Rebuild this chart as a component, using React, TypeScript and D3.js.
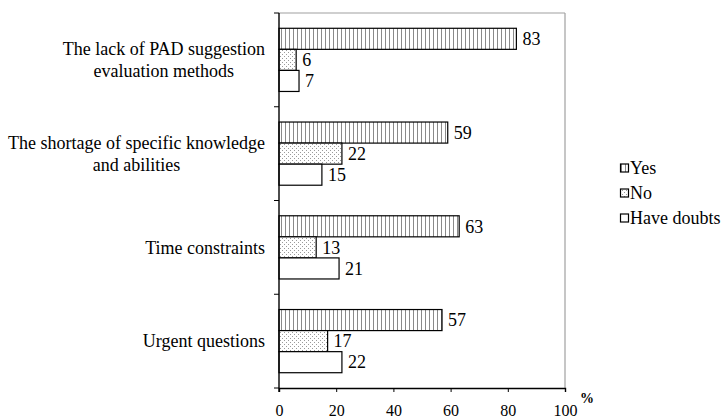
import React, { useEffect, useRef } from "react";
import * as d3 from "d3";

const categories: string[][] = [
  ["The lack of PAD suggestion", "evaluation methods"],
  ["The shortage of specific knowledge", "and abilities"],
  ["Time constraints"],
  ["Urgent questions"],
];
const seriesNames = ["Yes", "No", "Have doubts"];
const yesValues = [83, 59, 63, 57];
const noValues = [6, 22, 13, 17];
const doubtValues = [7, 15, 21, 22];
const xTicks = [0, 20, 40, 60, 80, 100];

const W = 726;
const H = 420;
const FONT = "Liberation Serif, Tinos, Times New Roman, DejaVu Serif, serif";

export default function App() {
  const ref = useRef<SVGSVGElement>(null);

  useEffect(() => {
    const svg = d3.select(ref.current);
    svg.selectAll("*").remove();

    const left = 279, right = 565, top = 13, bottom = 388;
    const x = d3.scaleLinear().domain([0, 100]).range([left, right]);
    const y0 = d3.scaleBand<number>().domain(d3.range(categories.length)).range([top, bottom]).padding(0);
    const bw = y0.bandwidth();
    const pad = bw * 0.163;
    const y1 = d3.scaleBand<number>().domain([0, 1, 2]).range([pad, bw - pad]).padding(0);

    const defs = svg.append("defs");
    const pv = defs.append("pattern").attr("id", "pYes").attr("patternUnits", "userSpaceOnUse")
      .attr("width", 4).attr("height", 4);
    pv.append("rect").attr("width", 4).attr("height", 4).attr("fill", "#fff");
    pv.append("line").attr("x1", 1.5).attr("x2", 1.5).attr("y1", 0).attr("y2", 4)
      .attr("stroke", "#8a8a8a").attr("stroke-width", 1);
    const pd = defs.append("pattern").attr("id", "pNo").attr("patternUnits", "userSpaceOnUse")
      .attr("width", 4).attr("height", 4);
    pd.append("rect").attr("width", 4).attr("height", 4).attr("fill", "#fff");
    pd.append("rect").attr("x", 0).attr("y", 0).attr("width", 1).attr("height", 1).attr("fill", "#9a9a9a");
    pd.append("rect").attr("x", 2).attr("y", 2).attr("width", 1).attr("height", 1).attr("fill", "#9a9a9a");
    const fills = ["url(#pYes)", "url(#pNo)", "#fff"];

    svg.append("line").attr("x1", left).attr("x2", right).attr("y1", top).attr("y2", top)
      .attr("stroke", "#a0a0a0").attr("stroke-width", 1.2);
    svg.append("line").attr("x1", right).attr("x2", right).attr("y1", top).attr("y2", bottom)
      .attr("stroke", "#a0a0a0").attr("stroke-width", 1.2);

    const series = [yesValues, noValues, doubtValues];
    categories.forEach((_, ci) => {
      series.forEach((vals, si) => {
        const v = vals[ci];
        const yy = (y0(ci) as number) + (y1(si) as number);
        svg.append("rect")
          .attr("x", x(0)).attr("y", yy)
          .attr("width", x(v) - x(0)).attr("height", y1.bandwidth())
          .attr("fill", fills[si]).attr("stroke", "#000").attr("stroke-width", 1.2);
        svg.append("text")
          .attr("x", x(v) + 6).attr("y", yy + y1.bandwidth() / 2).attr("dy", "0.35em")
          .style("font-family", FONT).style("font-size", "18px").attr("fill", "#000")
          .text(String(v));
      });
    });

    const xAxis = svg.append("g").attr("transform", `translate(0,${bottom})`)
      .call(d3.axisBottom(x).tickValues(xTicks).tickSize(4).tickPadding(13));
    xAxis.select(".domain").attr("stroke", "#000").attr("stroke-width", 1.4);
    xAxis.selectAll(".tick line").attr("stroke", "#000");
    xAxis.selectAll("text").style("font-family", FONT).style("font-size", "16px").attr("fill", "#000");

    svg.append("line").attr("x1", left).attr("x2", left).attr("y1", top).attr("y2", bottom + 4)
      .attr("stroke", "#000").attr("stroke-width", 1.4);
    d3.range(categories.length + 1).forEach((i) => {
      const yy = i < categories.length ? (y0(i) as number) : bottom;
      svg.append("line").attr("x1", left - 5).attr("x2", left).attr("y1", yy).attr("y2", yy)
        .attr("stroke", "#000").attr("stroke-width", 1);
    });

    svg.append("text").attr("x", 580).attr("y", 403)
      .style("font-family", FONT).style("font-size", "14px").style("font-weight", "bold").text("%");

    const lineH = 22;
    categories.forEach((lines, ci) => {
      const cy = (y0(ci) as number) + bw / 2;
      const g = svg.append("g");
      const texts = lines.map((ln, li) =>
        g.append("text")
          .attr("y", cy + (li - (lines.length - 1) / 2) * lineH).attr("dy", "0.35em")
          .style("font-family", FONT).style("font-size", "18px").attr("fill", "#000")
          .attr("text-anchor", "middle").text(ln)
      );
      const maxW = d3.max(texts, (t) => (t.node() as SVGTextElement).getComputedTextLength()) || 0;
      texts.forEach((t) => t.attr("x", 265 - maxW / 2));
    });

    seriesNames.forEach((name, i) => {
      const ly = 168 + i * 25;
      svg.append("rect").attr("x", 620.5).attr("y", ly - 4).attr("width", 8).attr("height", 8)
        .attr("fill", fills[i]).attr("stroke", "#000").attr("stroke-width", 1.2);
      svg.append("text").attr("x", 630).attr("y", ly).attr("dy", "0.35em")
        .style("font-family", FONT).style("font-size", "18px").attr("fill", "#000").text(name);
    });
  }, []);

  return (
    <svg ref={ref} width={W} height={H}
      style={{ position: "absolute", left: 0, top: 0, display: "block", background: "#fff" }} />
  );
}
